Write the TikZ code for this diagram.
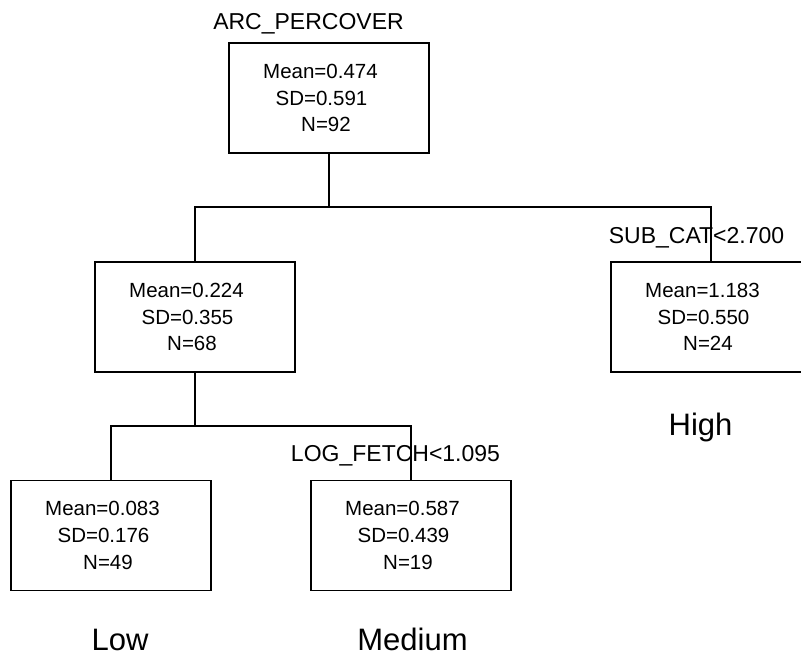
\documentclass[tikz,border=0pt]{standalone}
\usepackage{fontspec}
\setmainfont{Liberation Sans}
\usepackage{tikz}
\usetikzlibrary{calc}
\tikzset{
  statbox/.style={draw, line width=1.2pt, minimum width=200pt, minimum height=110pt,
    align=center, inner sep=0pt, font=\fontsize{20.5}{26.7}\selectfont},
  splitlabel/.style={anchor=base, inner sep=0pt, font=\fontsize{23}{26}\selectfont},
  classlabel/.style={anchor=base, inner sep=0pt, font=\fontsize{31}{34}\selectfont},
  branch/.style={line width=1.2pt}
}
\newcommand{\statnode}[6]{\node[statbox] (#1) at ( #2 , #3 ) {Mean=#4\rule{17pt}{0pt}\\SD=#5\rule{15pt}{0pt}\\N=#6\rule{6pt}{0pt}};}

\begin{document}
\begin{tikzpicture}[x=1pt,y=-1pt]
\useasboundingbox (0,0) rectangle (801,656);
\clip (0,0) rectangle (801,656);
% boxes of the tree
\statnode{root}{329}{98}{0.474}{0.591}{92}
\statnode{left}{195}{317}{0.224}{0.355}{68}
\statnode{right}{711}{317}{1.183}{0.550}{24}
\statnode{low}{111}{535.5}{0.083}{0.176}{49}
\statnode{med}{411}{535.5}{0.587}{0.439}{19}
% split points
\coordinate (split1) at (329,207);
\coordinate (split2) at (195,426);
% branches
\draw[branch] (root.south) -- (split1);
\draw[branch] (left.north) |- (split1) -| (right.north);
\draw[branch] (left.south) -- (split2);
\draw[branch] (low.north) |- (split2) -| (med.north);
% split labels
\node[splitlabel] (rootlab) at (308.5,29) {ARC\_PERCOVER};
\node[splitlabel] (rightlab) at (696.5,243) {SUB\_CAT<2.700};
\node[splitlabel] (medlab) at (395.5,461) {LOG\_FETCH<1.095};
% class labels
\node[classlabel] (high) at (700.5,435) {High};
\node[classlabel] (lowlab) at (120,650) {Low};
\node[classlabel] (medium) at (412.5,650) {Medium};
\end{tikzpicture}
\end{document}
